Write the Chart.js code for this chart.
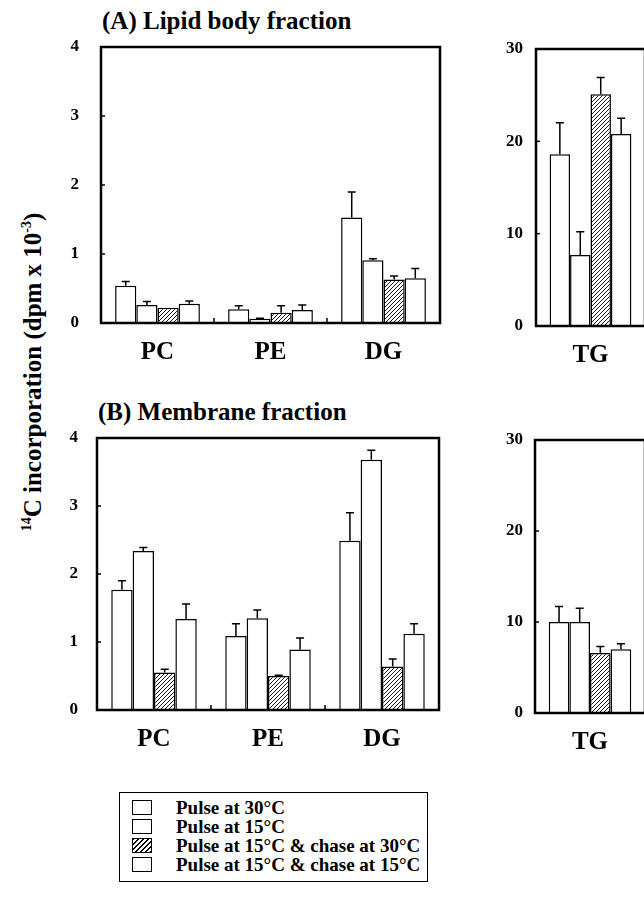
<!DOCTYPE html>
<html>
<head>
<meta charset="utf-8">
<script src="https://cdn.jsdelivr.net/npm/chart.js@4/dist/chart.umd.min.js"></script>
<style>
  body { margin: 0; width: 644px; height: 904px; overflow: hidden; background: #fff; position: relative; }
  canvas { position: absolute; }
  .txt { position: absolute; font-family: 'Liberation Serif', 'Times New Roman', serif; font-weight: bold; color: #000; white-space: nowrap; line-height: 1; }
  #ylab { left: 32px; top: 372px; font-size: 25px; transform: translate(-50%, -50%) rotate(-90deg); }
  #ylab sup { font-size: 14px; }
  #legend { position: absolute; left: 119px; top: 792px; width: 309px; height: 90px; border: 1.5px solid #000; box-sizing: border-box; }
  .row { position: absolute; left: 12px; width: 290px; height: 19px; white-space: nowrap; font-family: 'Liberation Serif', 'Times New Roman', serif; font-weight: bold; font-size: 19px; line-height: 19px; }
  .sw { position: absolute; left: 0; top: 0; width: 20px; height: 15px; border: 1.5px solid #000; background: #fff; box-sizing: border-box; }
  .sw.hatch { background: repeating-linear-gradient(135deg, #000 0 1px, #fff 1px 3.5px); }
  .row span.t { position: absolute; left: 44px; top: -2px; }
</style>
</head>
<body>
<div class="txt" style="left:102px; top:8px; font-size:25px;">(A) Lipid body fraction</div>
<div class="txt" style="left:98px; top:399px; font-size:25px;">(B) Membrane fraction</div>
<div class="txt" id="ylab"><sup>14</sup>C incorporation (dpm x 10<sup>-3</sup>)</div>

<canvas id="lipidMain" width="450" height="390" style="left:0; top:0;"></canvas>
<canvas id="lipidTG" width="180" height="390" style="left:470px; top:0;"></canvas>
<canvas id="memMain" width="450" height="390" style="left:0; top:390px;"></canvas>
<canvas id="memTG" width="180" height="390" style="left:470px; top:390px;"></canvas>

<div id="legend"></div>

<script>
// Categories and series
const categories = ['PC', 'PE', 'DG'];
const tgCategory = ['TG'];
const seriesLabels = ['Pulse at 30°C', 'Pulse at 15°C', 'Pulse at 15°C & chase at 30°C', 'Pulse at 15°C & chase at 15°C'];

// (A) Lipid body fraction, PC / PE / DG  (dpm x 10^-3)
const lipidPulse30 = [0.54, 0.20, 1.53];
const lipidPulse15 = [0.26, 0.06, 0.91];
const lipidChase30 = [0.22, 0.15, 0.63];
const lipidChase15 = [0.28, 0.19, 0.65];
const lipidPulse30Err = [0.06, 0.05, 0.37];
const lipidPulse15Err = [0.05, 0.01, 0.02];
const lipidChase30Err = [0, 0.10, 0.05];
const lipidChase15Err = [0.04, 0.07, 0.14];

// (A) Lipid body fraction, TG (one value per series)
const lipidTG = [18.6, 7.7, 25.1, 20.8];
const lipidTGErr = [3.4, 2.5, 1.8, 1.7];

// (B) Membrane fraction, PC / PE / DG
const memPulse30 = [1.77, 1.09, 2.49];
const memPulse15 = [2.34, 1.35, 3.68];
const memChase30 = [0.55, 0.50, 0.64];
const memChase15 = [1.34, 0.89, 1.12];
const memPulse30Err = [0.13, 0.18, 0.41];
const memPulse15Err = [0.05, 0.12, 0.14];
const memChase30Err = [0.05, 0.01, 0.11];
const memChase15Err = [0.22, 0.17, 0.15];

// (B) Membrane fraction, TG
const memTG = [10.0, 10.0, 6.6, 7.0];
const memTGErr = [1.7, 1.5, 0.7, 0.6];

const smallTicks = [0, 1, 2, 3, 4];
const bigTicks = [0, 10, 20, 30];

const FONT = "'Liberation Serif', 'Times New Roman', serif";

// hatch pattern for the chase-at-30 series
function makeHatch() {
    const c = document.createElement('canvas');
    c.width = 4; c.height = 4;
    const g = c.getContext('2d');
    g.fillStyle = '#fff';
    g.fillRect(0, 0, 4, 4);
    g.strokeStyle = '#000';
    g.lineWidth = 0.9;
    g.beginPath();
    g.moveTo(0, 4); g.lineTo(4, 0);
    g.moveTo(-1, 1); g.lineTo(1, -1);
    g.moveTo(3, 5); g.lineTo(5, 3);
    g.stroke();
    return g.createPattern(c, 'repeat');
}
const hatch = makeHatch();

// error bars (upper whisker only) + box frame + inward ticks
const extras = {
    id: 'extras',
    afterDatasetsDraw(chart) {
        const ctx = chart.ctx;
        const ys = chart.scales.y;
        ctx.save();
        ctx.strokeStyle = '#000';
        ctx.lineWidth = 1.5;
        chart.data.datasets.forEach((ds, i) => {
            const meta = chart.getDatasetMeta(i);
            meta.data.forEach((bar, j) => {
                const e = ds.errors[j];
                if (!e) return;
                const top = ys.getPixelForValue(ds.data[j] + e);
                ctx.beginPath();
                ctx.moveTo(bar.x, bar.y);
                ctx.lineTo(bar.x, top);
                ctx.moveTo(bar.x - 4, top);
                ctx.lineTo(bar.x + 4, top);
                ctx.stroke();
            });
        });
        const a = chart.chartArea;
        ctx.lineWidth = 2.5;
        ctx.strokeRect(a.left, a.top, a.right - a.left, a.bottom - a.top);
        // inward y ticks
        ctx.lineWidth = 1.5;
        ys.ticks.forEach(t => {
            const y = ys.getPixelForValue(t.value);
            ctx.beginPath();
            ctx.moveTo(a.left, y);
            ctx.lineTo(a.left + 4, y);
            ctx.stroke();
        });
        // small ticks between categories
        const xs = chart.scales.x;
        const n = chart.data.labels.length;
        for (let k = 1; k < n; k++) {
            const x = (xs.getPixelForValue(k - 1) + xs.getPixelForValue(k)) / 2;
            ctx.beginPath();
            ctx.moveTo(x, a.bottom);
            ctx.lineTo(x, a.bottom - 5);
            ctx.stroke();
        }
        ctx.restore();
    }
};

function makeChart(id, labels, values, errors, tickValues, cfg) {
    const datasets = seriesLabels.map((label, i) => ({
        label: label,
        data: values[i],
        errors: errors[i],
        backgroundColor: i === 2 ? hatch : '#fff',
        borderColor: '#000',
        borderWidth: 1.5,
        categoryPercentage: 0.75,
        barPercentage: 1.0
    }));
    return new Chart(document.getElementById(id).getContext('2d'), {
        type: 'bar',
        data: { labels: labels, datasets: datasets },
        options: {
            responsive: false,
            animation: false,
            layout: { padding: { top: cfg.top, right: cfg.right, bottom: cfg.bottom, left: 0 } },
            plugins: { legend: { display: false }, tooltip: { enabled: false } },
            scales: {
                x: {
                    grid: { display: false, drawTicks: false },
                    border: { display: false },
                    ticks: { color: '#000', padding: 15, font: { family: FONT, size: 25, weight: 'bold' } },
                    afterFit(s) { s.height = 50; }
                },
                y: {
                    min: tickValues[0],
                    max: tickValues[tickValues.length - 1],
                    afterBuildTicks(s) { s.ticks = tickValues.map(v => ({ value: v })); },
                    grid: { display: false, drawTicks: false },
                    border: { display: false },
                    ticks: { color: '#000', padding: cfg.pad, font: { family: FONT, size: 17, weight: 'bold' } },
                    afterFit(s) { s.width = cfg.yw; }
                }
            }
        },
        plugins: [extras]
    });
}

makeChart('lipidMain', categories,
    [lipidPulse30, lipidPulse15, lipidChase30, lipidChase15],
    [lipidPulse30Err, lipidPulse15Err, lipidChase30Err, lipidChase15Err],
    smallTicks, { top: 47, right: 10, bottom: 17, yw: 101, pad: 22 });

makeChart('lipidTG', tgCategory,
    lipidTG.map(v => [v]), lipidTGErr.map(v => [v]),
    bigTicks, { top: 49, right: 5, bottom: 14, yw: 66, pad: 13 });

makeChart('memMain', categories,
    [memPulse30, memPulse15, memChase30, memChase15],
    [memPulse30Err, memPulse15Err, memChase30Err, memChase15Err],
    smallTicks, { top: 48, right: 11, bottom: 20, yw: 97, pad: 19 });

makeChart('memTG', tgCategory,
    memTG.map(v => [v]), memTGErr.map(v => [v]),
    bigTicks, { top: 50, right: 5, bottom: 17, yw: 65, pad: 12 });

// legend
const legend = document.getElementById('legend');
seriesLabels.forEach((label, i) => {
    const row = document.createElement('div');
    row.className = 'row';
    row.style.top = (6.5 + i * 19) + 'px';
    const sw = document.createElement('div');
    sw.className = 'sw' + (i === 2 ? ' hatch' : '');
    const t = document.createElement('span');
    t.className = 't';
    t.textContent = label;
    row.appendChild(sw);
    row.appendChild(t);
    legend.appendChild(row);
});
</script>
</body>
</html>
